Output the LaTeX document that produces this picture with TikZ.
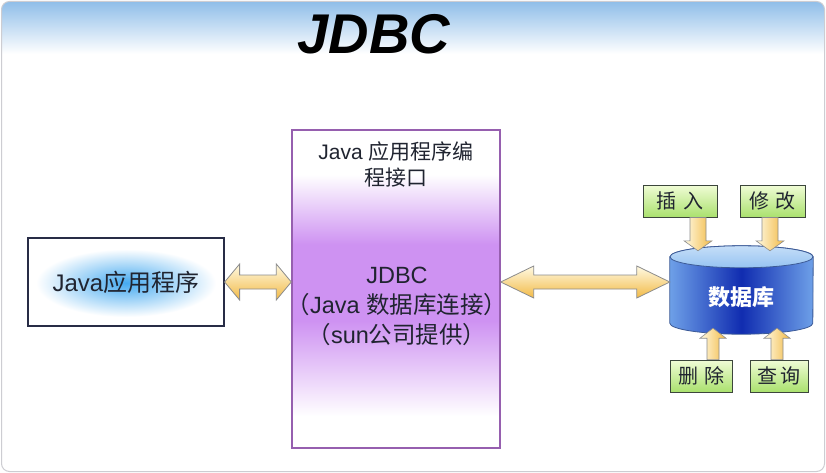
\documentclass[tikz,border=0pt]{standalone}
\usepackage{fontspec}
\setmainfont{Liberation Sans}
\newfontfamily\cjk{Noto Sans CJK SC}
\usetikzlibrary{calc}
\definecolor{topblue}{RGB}{140,188,232}
\definecolor{framegray}{RGB}{205,205,210}
\definecolor{inkdark}{RGB}{32,36,48}
\definecolor{appborder}{RGB}{40,44,70}
\definecolor{glowblue}{RGB}{70,170,240}
\definecolor{apipurple}{RGB}{206,146,242}
\definecolor{apiborder}{RGB}{150,95,175}
\definecolor{arrowlight}{RGB}{255,250,228}
\definecolor{arroworange}{RGB}{242,186,70}
\definecolor{arrowedge}{RGB}{140,140,140}
\definecolor{greenlight}{RGB}{240,252,214}
\definecolor{greendark}{RGB}{170,225,110}
\definecolor{greenedge}{RGB}{60,70,60}
\definecolor{cyllight}{RGB}{110,160,232}
\definecolor{cyldark}{RGB}{16,44,176}
\definecolor{cyltop}{RGB}{150,195,242}
\definecolor{cyledge}{RGB}{60,90,150}
\pgfdeclareverticalshading{apishade}{100bp}{color(0bp)=(white); color(30bp)=(white); color(45bp)=(apipurple); color(57bp)=(apipurple); color(68bp)=(white); color(100bp)=(white)}
% horizontal double arrow: #1 left point, #2 right point, #3 head length, #4 head half width, #5 body half width
\newcommand\dblarrowH[5]{%
  \shadedraw[fatarrowh] let \p1=(#1), \p2=(#2) in
  (\x1,\y1) -- ({\x1+#3},{\y1+#4}) -- ({\x1+#3},{\y1+#5}) -- ({\x2-#3},{\y1+#5}) -- ({\x2-#3},{\y1+#4})
  -- (\x2,\y1) -- ({\x2-#3},{\y1-#4}) -- ({\x2-#3},{\y1-#5}) -- ({\x1+#3},{\y1-#5}) -- ({\x1+#3},{\y1-#4}) -- cycle;}
% vertical single arrow: #1 tail point, #2 tip (y used), #3 head length, #4 head half width, #5 shaft half width
\newcommand\fatarrowV[5]{%
  \shadedraw[fatarrowv] let \p1=(#1), \p2=(#2), \n1={sign(\y1-\y2)} in
  ({\x1-#5},\y1) -- ({\x1-#5},{\y2+\n1*#3}) -- ({\x1-#4},{\y2+\n1*#3}) -- (\x1,\y2)
  -- ({\x1+#4},{\y2+\n1*#3}) -- ({\x1+#5},{\y2+\n1*#3}) -- ({\x1+#5},\y1) -- cycle;}
\begin{document}
\begin{tikzpicture}[x=1pt,y=-1pt,
  fatarrowh/.style={top color=arrowlight, bottom color=arroworange, draw=arrowedge, line width=0.8pt, line join=miter},
  fatarrowv/.style={left color=arrowlight, right color=arroworange, draw=arrowedge, line width=0.6pt},
  appbox/.style={draw=appborder, line width=1.2pt, minimum width=196pt, minimum height=88pt, inner sep=0pt,
    text=inkdark, font=\fontsize{24}{24}\selectfont},
  apibox/.style={draw=apiborder, line width=1.4pt, shading=apishade, minimum width=208pt, minimum height=318pt, inner sep=0pt},
  apitext/.style={text=inkdark, align=center},
  greenbox/.style={draw=greenedge, line width=0.9pt, top color=greenlight, bottom color=greendark,
    minimum height=32pt, inner sep=0pt, text=inkdark, font=\cjk\fontsize{20}{20}\selectfont},
  dbbody/.style={left color=cyllight, right color=cyllight, middle color=cyldark, draw=cyledge, line width=0.8pt},
]
\useasboundingbox (0,0) rectangle (826,473);
\fill[white] (0,0) rectangle (826,473);
\begin{scope}
  \clip[rounded corners=8pt] (1.5,1.5) rectangle (824.5,471.5);
  \shade[top color=topblue, bottom color=white] (0,0) rectangle (826,54);
\end{scope}
\draw[framegray, line width=1pt, rounded corners=8pt] (1.5,1.5) rectangle (824.5,471.5);

% title
\node[font=\bfseries\itshape\fontsize{56}{56}\selectfont, anchor=base, inner sep=0pt] (title) at (374,54) {JDBC};

% Java application box
\coordinate (appc) at (126,283);
\shade[inner color=glowblue, outer color=white] (appc) ellipse[x radius=90, y radius=34];
\node[appbox] (app) at (126,282) {Java{\cjk 应用程序}};

% JDBC API box
\node[apibox] (api) at (396,289) {};
\node[apitext, font=\fontsize{21}{26}\selectfont] (apititle) at (396,164) {Java {\cjk 应用程序编}\\{\cjk 程接口}};
\node[apitext, font=\fontsize{23.5}{30}\selectfont] (apimain) at (397,306) {JDBC\\{\cjk （}Java {\cjk 数据库连接）}\\{\cjk （}sun{\cjk 公司提供）}};

% database cylinder
\node[inner sep=0pt, minimum width=143pt, minimum height=88pt] (db) at (741.5,290) {};
\shadedraw[dbbody] ($(db.north west)+(0,11)$) -- ($(db.south west)+(0,-11)$)
  arc[start angle=180, end angle=0, x radius=71.5, y radius=11]
  -- ($(db.north east)+(0,11)$)
  arc[start angle=0, end angle=-180, x radius=71.5, y radius=11] -- cycle;
\shadedraw[top color=cyltop!55!white, bottom color=cyltop, draw=cyledge, line width=0.8pt]
  ($(db.north)+(0,11)$) ellipse[x radius=71.5, y radius=11];
\node[font=\cjk\bfseries\fontsize{22}{22}\selectfont, text=white] (dblabel) at ($(db.center)+(0,7)$) {数据库};

% horizontal double arrows
\dblarrowH{app.east}{app.east -| api.west}{15pt}{18pt}{7pt}
\dblarrowH{app.east -| api.east}{app.east -| db.west}{33pt}{16pt}{7pt}

% operation boxes
\node[greenbox, minimum width=74pt] (ins) at (680,201) {插\hspace{0.35em}入};
\node[greenbox, minimum width=65pt] (upd) at (772.5,201) {修\hspace{0.3em}改};
\node[greenbox, minimum width=62pt] (del) at (701,376) {删\hspace{0.3em}除};
\node[greenbox, minimum width=58pt] (qry) at (779,376) {查\hspace{0.2em}询};

% vertical arrows
\fatarrowV{$(ins.south)+(18,0)$}{$(db.north)+(0,5)$}{10pt}{14pt}{8pt}
\fatarrowV{$(upd.south)+(-2.5,0)$}{$(db.north)+(0,5)$}{10pt}{14pt}{8pt}
\fatarrowV{$(del.north)+(12,0)$}{$(db.south)+(0,-6)$}{10pt}{13pt}{6pt}
\fatarrowV{$(qry.north)+(-2,0)$}{$(db.south)+(0,-6)$}{10pt}{13pt}{6pt}
\end{tikzpicture}
\end{document}
